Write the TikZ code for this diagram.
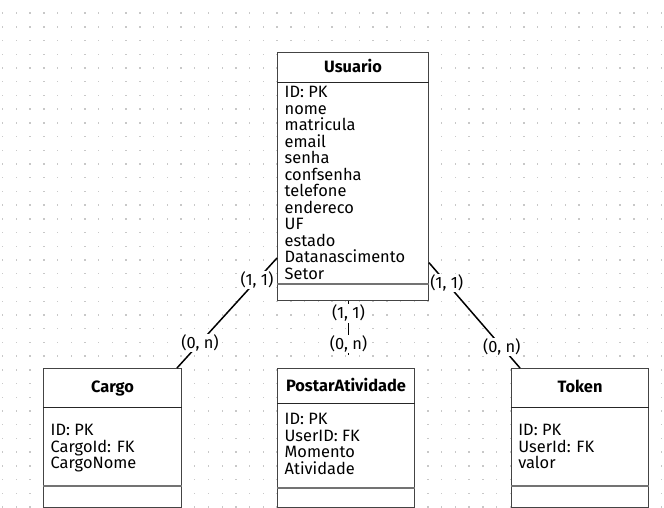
\documentclass[tikz,border=0pt]{standalone}
\usepackage{fontspec}
\setmainfont{Fira Sans}
\usepackage{xcolor}
\definecolor{entity-border}{RGB}{68,68,68}
\definecolor{dot-gray}{RGB}{200,200,200}
\usetikzlibrary{calc}
\tikzset{
  entity/.style={
    draw=entity-border,
    fill=white,
    line width=1pt,
    anchor=north west,
    inner sep=0pt
  },
  entity-title/.style={
    anchor=base,
    font=\bfseries\fontsize{16.4}{16.5}\selectfont
  },
  entity-attrs/.style={
    anchor=north west,
    align=left,
    inner sep=0pt,
    font=\fontsize{16.4}{16.5}\selectfont
  },
  title-line/.style={
    draw=black!85,
    line width=1pt
  },
  foot-line/.style={
    draw=black!55,
    line width=1.8pt
  },
  relation/.style={
    draw=black,
    line width=1.5pt
  },
  cardinality/.style={
    fill=white,
    inner sep=0.8pt,
    font=\fontsize{16.4}{16.5}\selectfont
  },
  grid-dot/.style={
    fill=dot-gray
  },
}

\begin{document}
\begin{tikzpicture}[x=1pt,y=-1pt]

  \def\GRIDSTEP{13.72}

  \useasboundingbox (0,0) rectangle (664,508);
  \fill[white] (0,0) rectangle (664,508);

  % background grid
  \foreach \i in {0,...,48}{
    \foreach \j in {0,...,36}{
      \fill[grid-dot] ({2+\i*\GRIDSTEP},{12.4+\j*\GRIDSTEP}) rectangle +(1.4,1.4);
    }
  }

  % entities
  \node[entity, minimum width=151pt, minimum height=248pt] (usuario) at (277,52) {};
  \draw[title-line] ($(usuario.north west)+(0,31)$) -- ($(usuario.north east)+(0,31)$);
  \draw[foot-line] ($(usuario.north west)+(0,232)$) -- ($(usuario.north east)+(0,232)$);
  \node[entity-title] (usuario-name) at ($(usuario.north)+(0,20.7)$) {Usuario};
  \node[entity-attrs] (usuario-attrs) at ($(usuario.north west)+(7.5,34.2)$)
    {ID: PK\\nome\\matricula\\email\\senha\\confsenha\\telefone\\endereco\\UF\\estado\\Datanascimento\\Setor};

  \node[entity, minimum width=138pt, minimum height=139pt] (cargo) at (43,368) {};
  \draw[title-line] ($(cargo.north west)+(0,39)$) -- ($(cargo.north east)+(0,39)$);
  \draw[foot-line] ($(cargo.north west)+(0,118)$) -- ($(cargo.north east)+(0,118)$);
  \node[entity-title] (cargo-name) at ($(cargo.north)+(0,24.7)$) {Cargo};
  \node[entity-attrs] (cargo-attrs) at ($(cargo.north west)+(7.5,56)$)
    {ID: PK\\CargoId: FK\\CargoNome};

  \node[entity, minimum width=137pt, minimum height=139pt] (postar) at (277,368) {};
  \draw[title-line] ($(postar.north west)+(0,35)$) -- ($(postar.north east)+(0,35)$);
  \draw[foot-line] ($(postar.north west)+(0,120)$) -- ($(postar.north east)+(0,120)$);
  \node[entity-title] (postar-name) at ($(postar.north)+(0,23.7)$) {PostarAtividade};
  \node[entity-attrs] (postar-attrs) at ($(postar.north west)+(7.5,45)$)
    {ID: PK\\UserID: FK\\Momento\\Atividade};

  \node[entity, minimum width=137.6pt, minimum height=139pt] (token) at (510.7,368) {};
  \draw[title-line] ($(token.north west)+(0,39)$) -- ($(token.north east)+(0,39)$);
  \draw[foot-line] ($(token.north west)+(0,118)$) -- ($(token.north east)+(0,118)$);
  \node[entity-title] (token-name) at ($(token.north)+(0,24.3)$) {Token};
  \node[entity-attrs] (token-attrs) at ($(token.north west)+(7.5,56)$)
    {ID: PK\\UserId: FK\\valor};

  % relations
  \coordinate (usuario-cargo) at ($(usuario.north west)+(0,206)$);
  \coordinate (cargo-usuario) at ($(cargo.north east)+(-5,0)$);
  \coordinate (usuario-postar) at ($(usuario.south west)+(71.5,0)$);
  \coordinate (postar-usuario) at ($(postar.north west)+(71.5,-13)$);
  \coordinate (usuario-token) at ($(usuario.north east)+(0,210.7)$);
  \coordinate (token-usuario) at ($(token.north west)+(9.3,0)$);

  \draw[relation] (usuario-cargo) -- (cargo-usuario)
    node[cardinality, pos=0.2] {(1, 1)}
    node[cardinality, pos=0.77] {(0, n)};
  \draw[relation] (usuario-postar) -- (postar-usuario)
    node[cardinality, pos=0.23] {(1, 1)}
    node[cardinality, pos=0.79] {(0, n)};
  \draw[relation] (usuario-token) -- (token-usuario)
    node[cardinality, pos=0.196] {(1, 1)}
    node[cardinality, pos=0.8] {(0, n)};

\end{tikzpicture}
\end{document}
